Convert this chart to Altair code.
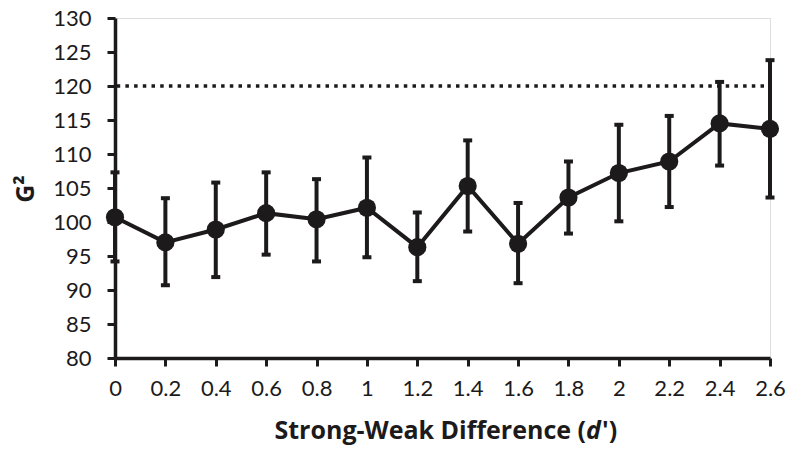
import altair as alt
import pandas as pd

# data
d_prime = [0, 0.2, 0.4, 0.6, 0.8, 1.0, 1.2, 1.4, 1.6, 1.8, 2.0, 2.2, 2.4, 2.6]
g2_mean = [100.7, 97.0, 98.9, 101.3, 100.4, 102.1, 96.3, 105.3, 96.8, 103.6, 107.2, 108.9, 114.5, 113.7]
g2_upper = [107.3, 103.5, 105.8, 107.3, 106.3, 109.5, 101.4, 112.0, 102.8, 108.9, 114.3, 115.6, 120.6, 123.8]
g2_lower = [94.2, 90.7, 91.9, 95.2, 94.2, 94.8, 91.3, 98.6, 91.0, 98.3, 100.1, 102.2, 108.3, 103.6]
ref_value = [120]
y_ticks = [80, 85, 90, 95, 100, 105, 110, 115, 120, 125, 130]

df = pd.DataFrame({"d": d_prime, "g2": g2_mean, "hi": g2_upper, "lo": g2_lower})
ref = pd.DataFrame({"y": ref_value})

INK = "#1c1a1b"
FONT = "Lato"
TFONT = "Open Sans"

xs = alt.Scale(domain=[0, 2.6], nice=False, zero=False)
ys = alt.Scale(domain=[80, 130], nice=False, zero=False)

x_axis = alt.Axis(values=d_prime, format="~g", grid=False, domainColor=INK, domainWidth=3.5,
                  tickColor=INK, tickWidth=3, tickSize=8, labelFont=FONT, labelFontSize=22,
                  labelColor=INK, labelPadding=12, title=None, labelFlush=False,
                  labelOverlap=False)
y_axis = alt.Axis(values=y_ticks, grid=False, domainColor=INK, domainWidth=3.5,
                  tickColor=INK, tickWidth=3, tickSize=8, labelFont=FONT, labelFontSize=22,
                  labelColor=INK, labelPadding=16, title=None, labelFlush=False,
                  labelOverlap=False)


def X(field):
    return alt.X(field, scale=xs, axis=x_axis)


def Y(field):
    return alt.Y(field, scale=ys, axis=y_axis)


base = alt.Chart(df)

refline = alt.Chart(ref).mark_rule(color=INK, strokeWidth=3.5, strokeDash=[3.5, 5.2],
                                   strokeDashOffset=-6).encode(y=Y("y:Q"))

bars = base.mark_rule(color=INK, strokeWidth=4).encode(x=X("d:Q"), y=Y("lo:Q"), y2="hi:Q")

cap_hi = base.mark_tick(color=INK, size=9, thickness=4, orient="horizontal", opacity=1).encode(
    x=X("d:Q"), y=Y("hi:Q"))
cap_lo = base.mark_tick(color=INK, size=9, thickness=4, orient="horizontal", opacity=1).encode(
    x=X("d:Q"), y=Y("lo:Q"))

line = base.mark_line(color=INK, strokeWidth=4).encode(x=X("d:Q"), y=Y("g2:Q"))
pts = base.mark_point(filled=True, color=INK, opacity=1, size=330, shape="circle").encode(
    x=X("d:Q"), y=Y("g2:Q"))

title_df = pd.DataFrame({"t": ["x"]})
TY = 421
t1 = alt.Chart(title_df).mark_text(text="Strong-Weak Difference (", font=TFONT, fontSize=25,
                                    fontWeight="bold", align="right", baseline="alphabetic",
                                    color=INK).encode(x=alt.value(471), y=alt.value(TY))
t2 = alt.Chart(title_df).mark_text(text="d", font=TFONT, fontSize=25, fontWeight="bold",
                                    fontStyle="italic", align="left", baseline="alphabetic",
                                    color=INK).encode(x=alt.value(471), y=alt.value(TY))
t3 = alt.Chart(title_df).mark_text(text="')", font=TFONT, fontSize=25, fontWeight="bold",
                                    align="left", baseline="alphabetic",
                                    color=INK).encode(x=alt.value(487), y=alt.value(TY))
ty = alt.Chart(title_df).mark_text(text="G²", font=TFONT, fontSize=25, fontWeight="bold",
                                    align="center", baseline="middle", angle=270,
                                    color=INK).encode(x=alt.value(-89), y=alt.value(171))

chart = alt.layer(refline, bars, cap_hi, cap_lo, line, pts, t1, t2, t3, ty).properties(
    width=655, height=340,
    autosize=alt.AutoSizeParams(type="none"),
    padding={"left": 107, "top": 10, "right": 16, "bottom": 87},
).configure_view(stroke=None).configure(background="white")

chart.save("out.html", embed_options={"renderer": "svg", "actions": False})
